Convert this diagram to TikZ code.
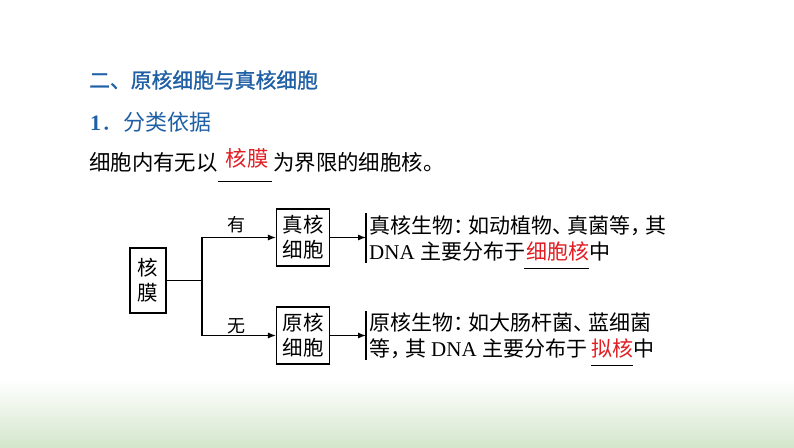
\documentclass[tikz,border=0pt]{standalone}
\usepackage{fontspec}
\setmainfont{Liberation Serif}
\newfontfamily\cjk{Noto Sans CJK SC}
\newfontfamily\cjkb[FakeBold=1.2]{Noto Sans CJK SC}
\usetikzlibrary{arrows.meta,calc}
\definecolor{titleblue}{RGB}{30,95,165}
\definecolor{ansred}{RGB}{225,30,35}
\definecolor{bggreen}{RGB}{212,230,204}
\tikzset{
  txt/.style={inner sep=0pt, font=\fontsize{21}{25}\selectfont\cjk},
  bigtxt/.style={inner sep=0pt, font=\fontsize{21.4}{26}\selectfont\cjk},
  boxnode/.style={draw, line width=1.1pt, inner sep=0pt, align=center,
    font=\fontsize{20.5}{25}\selectfont\cjk},
  conn/.style={line width=1.1pt},
  arr/.style={conn, -{Latex[length=8pt,width=6pt]}},
  ans/.style={txt, text=ansred},
}
\begin{document}
\begin{tikzpicture}[x=1pt,y=-1pt]
\useasboundingbox (0,0) rectangle (794,447);
\fill[white] (0,0) rectangle (794,447);
\shade[top color=white, bottom color=bggreen] (0,380) rectangle (794,447);

% headings
\node[anchor=west, inner sep=0pt, text=titleblue, font=\fontsize{20.8}{25}\selectfont\cjkb] (title) at (89,80) {二、原核细胞与真核细胞};
\node[anchor=west, inner sep=0pt, text=titleblue, font=\fontsize{22}{26}\selectfont] (num) at (90,122) {\textbf{1}\cjk．分类依据};

% sentence
\node[bigtxt, anchor=west] (l1a) at (89,162) {细胞内有无以};
\coordinate (u1s) at (218,181);
\coordinate (u1e) at (272,181);
\draw[line width=1pt] (u1s) -- (u1e);
\node[bigtxt, text=ansred] (a1) at (247,158) {核膜};
\node[bigtxt, anchor=west] (l1b) at (273,162) {为界限的细胞核。};

% diagram
\node[boxnode, minimum width=36pt, minimum height=65pt] (hm) at (148,280.5) {核\\膜};
\node[boxnode, minimum width=53pt, minimum height=57pt] (zh) at (303,237.5) {真核\\细胞};
\node[boxnode, minimum width=53pt, minimum height=57pt] (yh) at (303,335.5) {原核\\细胞};
\coordinate (j) at (202,280.5);
\draw[conn] (hm.east) -- (j);
\draw[arr] (j) |- (zh.west);
\draw[arr] (j) |- (yh.west);
\node[txt, font=\fontsize{18}{22}\selectfont\cjk] (you) at (236,225) {有};
\node[txt, font=\fontsize{18}{22}\selectfont\cjk] (wu) at (236,326) {无};

% brackets
\coordinate (b1t) at (366,213);
\coordinate (b1b) at (366,263);
\coordinate (b2t) at (366,311);
\coordinate (b2b) at (366,360);
\draw[conn] (b1t) -- (b1b);
\draw[conn] (b2t) -- (b2b);
\draw[arr] (zh.east) -- (zh.east -| b1t);
\draw[arr] (yh.east) -- (yh.east -| b2t);

% text 1
\node[txt, anchor=west] (t1) at (369,226) {真核生物：\kern-6pt 如动植物、\kern-6pt 真菌等，\kern-6pt 其};
\node[txt, anchor=base west] (t2a) at ($(t1.base west)+(0,26)$) {\rmfamily DNA\kern6pt\cjk 主要分布于};
\node[ans, anchor=base west] (t2b) at (t2a.base east) {细胞核};
\node[txt, anchor=base west] (t2c) at (t2b.base east) {中};
\draw[line width=1pt] ($(t2b.base west)+(-2,9)$) -- ($(t2b.base east)+(0,9)$);

% text 2
\node[txt, anchor=west] (t3) at (369,322) {原核生物：\kern-6pt 如大肠杆菌、\kern-6pt 蓝细菌};
\node[txt, anchor=base west] (t4a) at ($(t3.base west)+(0,26)$) {等，\kern-6pt 其\kern5pt{\rmfamily DNA}\kern6pt 主要分布于\kern3pt};
\node[ans, anchor=base west] (t4b) at (t4a.base east) {拟核};
\node[txt, anchor=base west] (t4c) at (t4b.base east) {中};
\draw[line width=1pt] ($(t4b.base west)+(0,9)$) -- ($(t4b.base east)+(0,9)$);
\end{tikzpicture}
\end{document}
